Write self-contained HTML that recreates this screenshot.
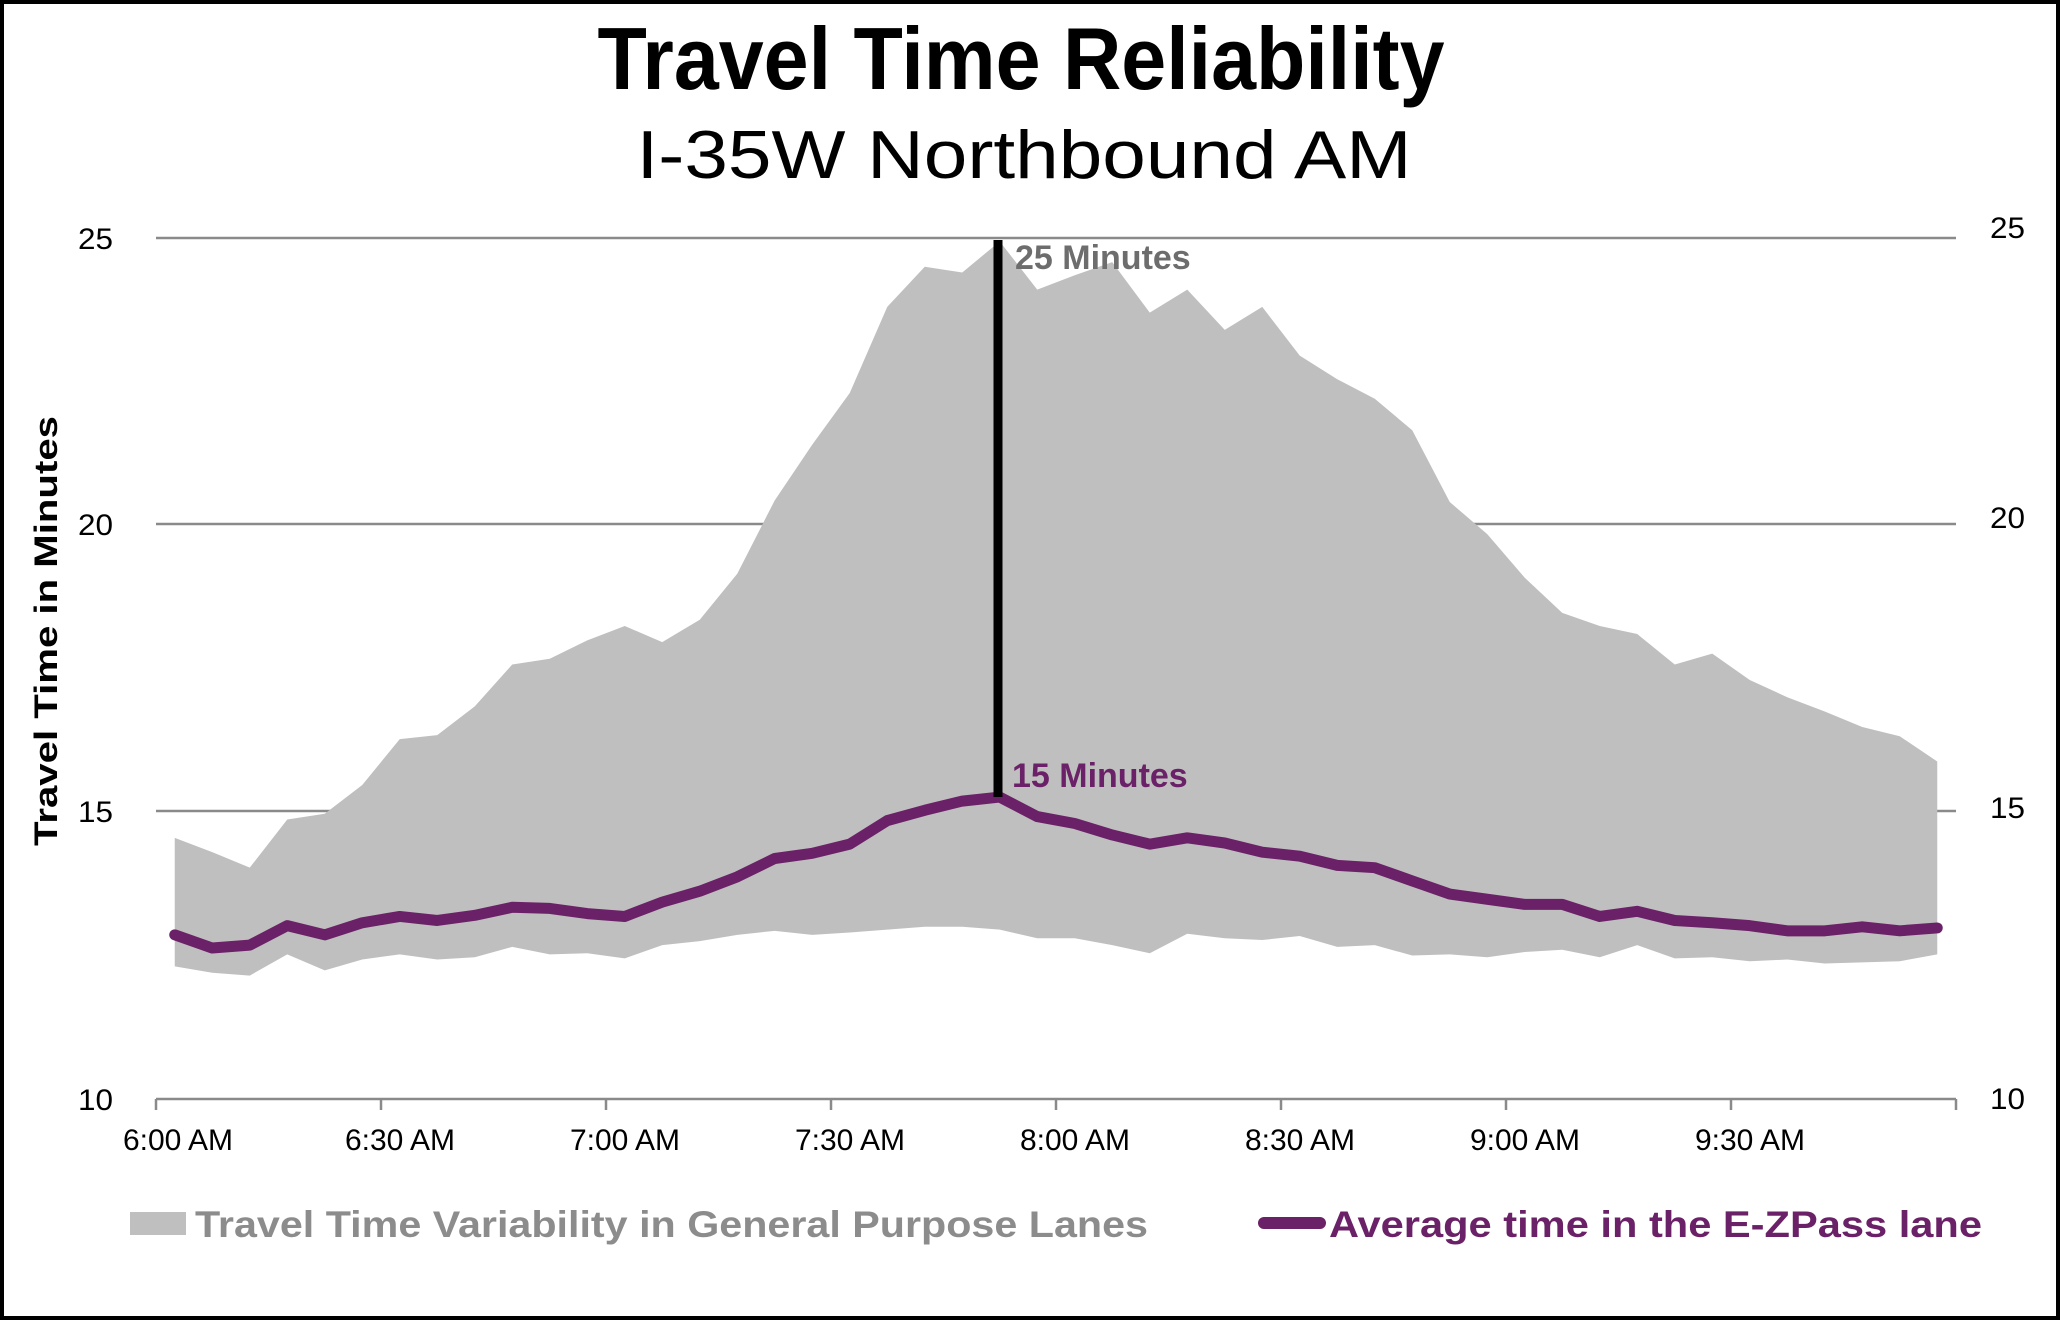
<!DOCTYPE html>
<html><head><meta charset="utf-8"><style>
html,body{margin:0;padding:0;background:#fff}
svg{display:block}
text{font-family:"Liberation Sans",sans-serif}
</style></head><body>
<svg width="2060" height="1320" viewBox="0 0 2060 1320" xmlns="http://www.w3.org/2000/svg">
<rect x="2" y="2" width="2056" height="1316" fill="#fff" stroke="#000" stroke-width="4"/>
<text x="1021" y="89" font-size="88" font-weight="bold" text-anchor="middle" textLength="847" lengthAdjust="spacingAndGlyphs">Travel Time Reliability</text>
<text x="1024" y="178" font-size="68" text-anchor="middle" textLength="775" lengthAdjust="spacingAndGlyphs">I-35W Northbound  AM</text>
<g stroke="#8a8a8a" stroke-width="2.5">
<line x1="156" y1="238" x2="1956" y2="238"/>
<line x1="156" y1="524" x2="1956" y2="524"/>
<line x1="156" y1="811" x2="1956" y2="811"/>
<line x1="156" y1="1099" x2="1956" y2="1099"/>
<line x1="156" y1="1099" x2="156" y2="1110"/>
<line x1="381" y1="1099" x2="381" y2="1110"/>
<line x1="606" y1="1099" x2="606" y2="1110"/>
<line x1="831" y1="1099" x2="831" y2="1110"/>
<line x1="1056" y1="1099" x2="1056" y2="1110"/>
<line x1="1281" y1="1099" x2="1281" y2="1110"/>
<line x1="1506" y1="1099" x2="1506" y2="1110"/>
<line x1="1731" y1="1099" x2="1731" y2="1110"/>
<line x1="1956" y1="1099" x2="1956" y2="1110"/>
</g>
<g transform="translate(174.75,1673) scale(37.5,-57.4)">
<polygon fill="#bfbfbf" points="0,14.55 1,14.3 2,14.03 3,14.87 4,14.97 5,15.47 6,16.27 7,16.34 8,16.84 9,17.57 10,17.67 11,17.99 12,18.24 13,17.96 14,18.35 15,19.15 16,20.43 17,21.4 18,22.3 19,23.8 20,24.5 21,24.4 22,24.94 23,24.1 24,24.35 25,24.58 26,23.7 27,24.1 28,23.4 29,23.8 30,22.95 31,22.54 32,22.2 33,21.65 34,20.4 35,19.84 36,19.08 37,18.47 38,18.24 39,18.1 40,17.57 41,17.76 42,17.3 43,17.0 44,16.75 45,16.48 46,16.32 47,15.88 47,12.52 46,12.4 45,12.38 44,12.36 43,12.43 42,12.4 41,12.47 40,12.45 39,12.68 38,12.47 37,12.6 36,12.56 35,12.47 34,12.52 33,12.5 32,12.68 31,12.65 30,12.84 29,12.77 28,12.8 27,12.88 26,12.54 25,12.68 24,12.8 23,12.8 22,12.95 21,13.0 20,13.0 19,12.95 18,12.9 17,12.86 16,12.93 15,12.86 14,12.75 13,12.68 12,12.45 11,12.54 10,12.52 9,12.65 8,12.47 7,12.43 6,12.52 5,12.43 4,12.24 3,12.52 2,12.15 1,12.2 0,12.31"/>
<polyline fill="none" stroke="#6b2167" stroke-width="11" stroke-linejoin="round" stroke-linecap="round" vector-effect="non-scaling-stroke" points="0,12.86 1,12.63 2,12.68 3,13.02 4,12.86 5,13.07 6,13.18 7,13.11 8,13.2 9,13.34 10,13.32 11,13.23 12,13.18 13,13.43 14,13.62 15,13.87 16,14.19 17,14.28 18,14.44 19,14.85 20,15.03 21,15.19 22,15.26 23,14.92 24,14.8 25,14.6 26,14.44 27,14.55 28,14.46 29,14.3 30,14.23 31,14.07 32,14.03 33,13.8 34,13.57 35,13.48 36,13.39 37,13.39 38,13.18 39,13.27 40,13.11 41,13.07 42,13.02 43,12.93 44,12.93 45,13.0 46,12.93 47,12.98"/>
</g>
<line x1="998" y1="240" x2="998" y2="797" stroke="#000" stroke-width="9"/>
<text x="1015" y="269" font-size="34" font-weight="bold" fill="#6d6d6d">25 Minutes</text>
<text x="1012" y="787" font-size="34" font-weight="bold" fill="#6b2167">15 Minutes</text>
<g font-size="30" fill="#000">
<text x="78" y="249" textLength="35" lengthAdjust="spacingAndGlyphs">25</text>
<text x="78" y="535" textLength="35" lengthAdjust="spacingAndGlyphs">20</text>
<text x="78" y="822" textLength="35" lengthAdjust="spacingAndGlyphs">15</text>
<text x="78" y="1110" textLength="35" lengthAdjust="spacingAndGlyphs">10</text>
<text x="1990" y="238" textLength="35" lengthAdjust="spacingAndGlyphs">25</text>
<text x="1990" y="528" textLength="35" lengthAdjust="spacingAndGlyphs">20</text>
<text x="1990" y="818" textLength="35" lengthAdjust="spacingAndGlyphs">15</text>
<text x="1990" y="1109" textLength="35" lengthAdjust="spacingAndGlyphs">10</text>
</g>
<g font-size="30" fill="#000" text-anchor="middle">
<text x="178" y="1150">6:00 AM</text>
<text x="400" y="1150">6:30 AM</text>
<text x="625" y="1150">7:00 AM</text>
<text x="850" y="1150">7:30 AM</text>
<text x="1075" y="1150">8:00 AM</text>
<text x="1300" y="1150">8:30 AM</text>
<text x="1525" y="1150">9:00 AM</text>
<text x="1750" y="1150">9:30 AM</text>
</g>
<text transform="translate(57,631) rotate(-90)" font-size="32" font-weight="bold" text-anchor="middle" textLength="430" lengthAdjust="spacingAndGlyphs">Travel Time in Minutes</text>
<rect x="130" y="1212" width="56" height="23" fill="#bfbfbf"/>
<text x="195" y="1237" font-size="37" font-weight="bold" fill="#8c8c8c" textLength="953" lengthAdjust="spacingAndGlyphs">Travel Time Variability in General Purpose Lanes</text>
<line x1="1264" y1="1223" x2="1320" y2="1223" stroke="#6b2167" stroke-width="12" stroke-linecap="round"/>
<text x="1329" y="1237" font-size="37" font-weight="bold" fill="#6b2167" textLength="653" lengthAdjust="spacingAndGlyphs">Average time in the E-ZPass lane</text>
</svg>
</body></html>
